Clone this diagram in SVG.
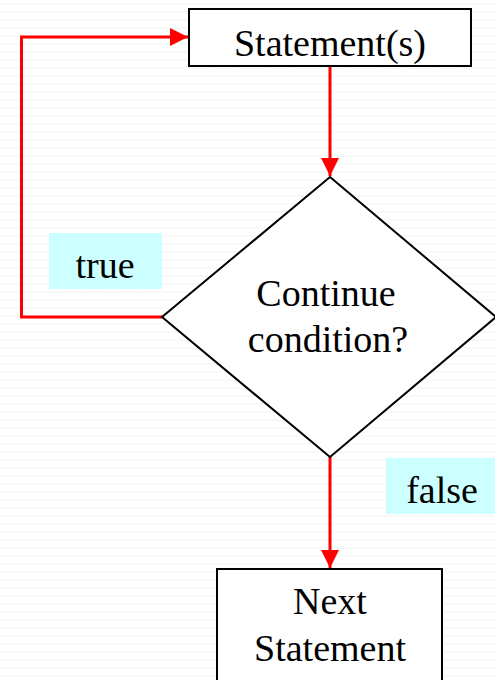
<svg xmlns="http://www.w3.org/2000/svg" width="495" height="680" viewBox="0 0 495 680">
  <style>
    .box { fill: #ffffff; stroke: #000000; stroke-width: 2; }
    .tag { fill: #ccffff; stroke: none; }
    .lbl { font-family: "Liberation Serif", "Times New Roman", serif; font-size: 38px; fill: #000000; text-anchor: middle; }
    .flow { fill: none; stroke: #ff0000; stroke-width: 3; }
  </style>
  <defs>
    <pattern id="waves" width="7" height="8" patternUnits="userSpaceOnUse">
      <path d="M0 5 L1.75 3 L3.5 5 L5.25 3 L7 5" fill="none" stroke="#f3f3f3" stroke-width="1"/>
    </pattern>
    <marker id="arrow" markerWidth="6" markerHeight="6" refX="6" refY="3" orient="auto" markerUnits="strokeWidth">
      <path d="M0 0 L6 3 L0 6 Z" fill="#ff0000"/>
    </marker>
  </defs>

  <!-- textured backdrop -->
  <rect x="0" y="0" width="495" height="680" fill="#ffffff"/>
  <rect x="0" y="0" width="495" height="680" fill="url(#waves)"/>

  <!-- connectors -->
  <g id="connectors">
    <path class="flow" d="M330 66 V176" marker-end="url(#arrow)"/>
    <path class="flow" d="M162 317 H21.5 V37 H188" marker-end="url(#arrow)"/>
    <path class="flow" d="M330 457 V568" marker-end="url(#arrow)"/>
  </g>

  <g id="statements">
    <rect class="box" x="189" y="9" width="282" height="57"/>
    <text class="lbl" x="330" y="56">Statement(s)</text>
  </g>

  <g id="condition">
    <polygon class="box" points="330,177 496,317 330,457 162,317"/>
    <text class="lbl" x="326" y="306">Continue</text>
    <text class="lbl" x="328" y="352">condition?</text>
  </g>

  <g id="true-label">
    <rect class="tag" x="49" y="233" width="113" height="56"/>
    <text class="lbl" x="105" y="278">true</text>
  </g>

  <g id="false-label">
    <rect class="tag" x="386" y="458" width="112" height="56"/>
    <text class="lbl" x="442" y="503">false</text>
  </g>

  <g id="next-statement">
    <rect class="box" x="217" y="569" width="225" height="120"/>
    <text class="lbl" x="330" y="614">Next</text>
    <text class="lbl" x="330" y="661">Statement</text>
  </g>
</svg>
